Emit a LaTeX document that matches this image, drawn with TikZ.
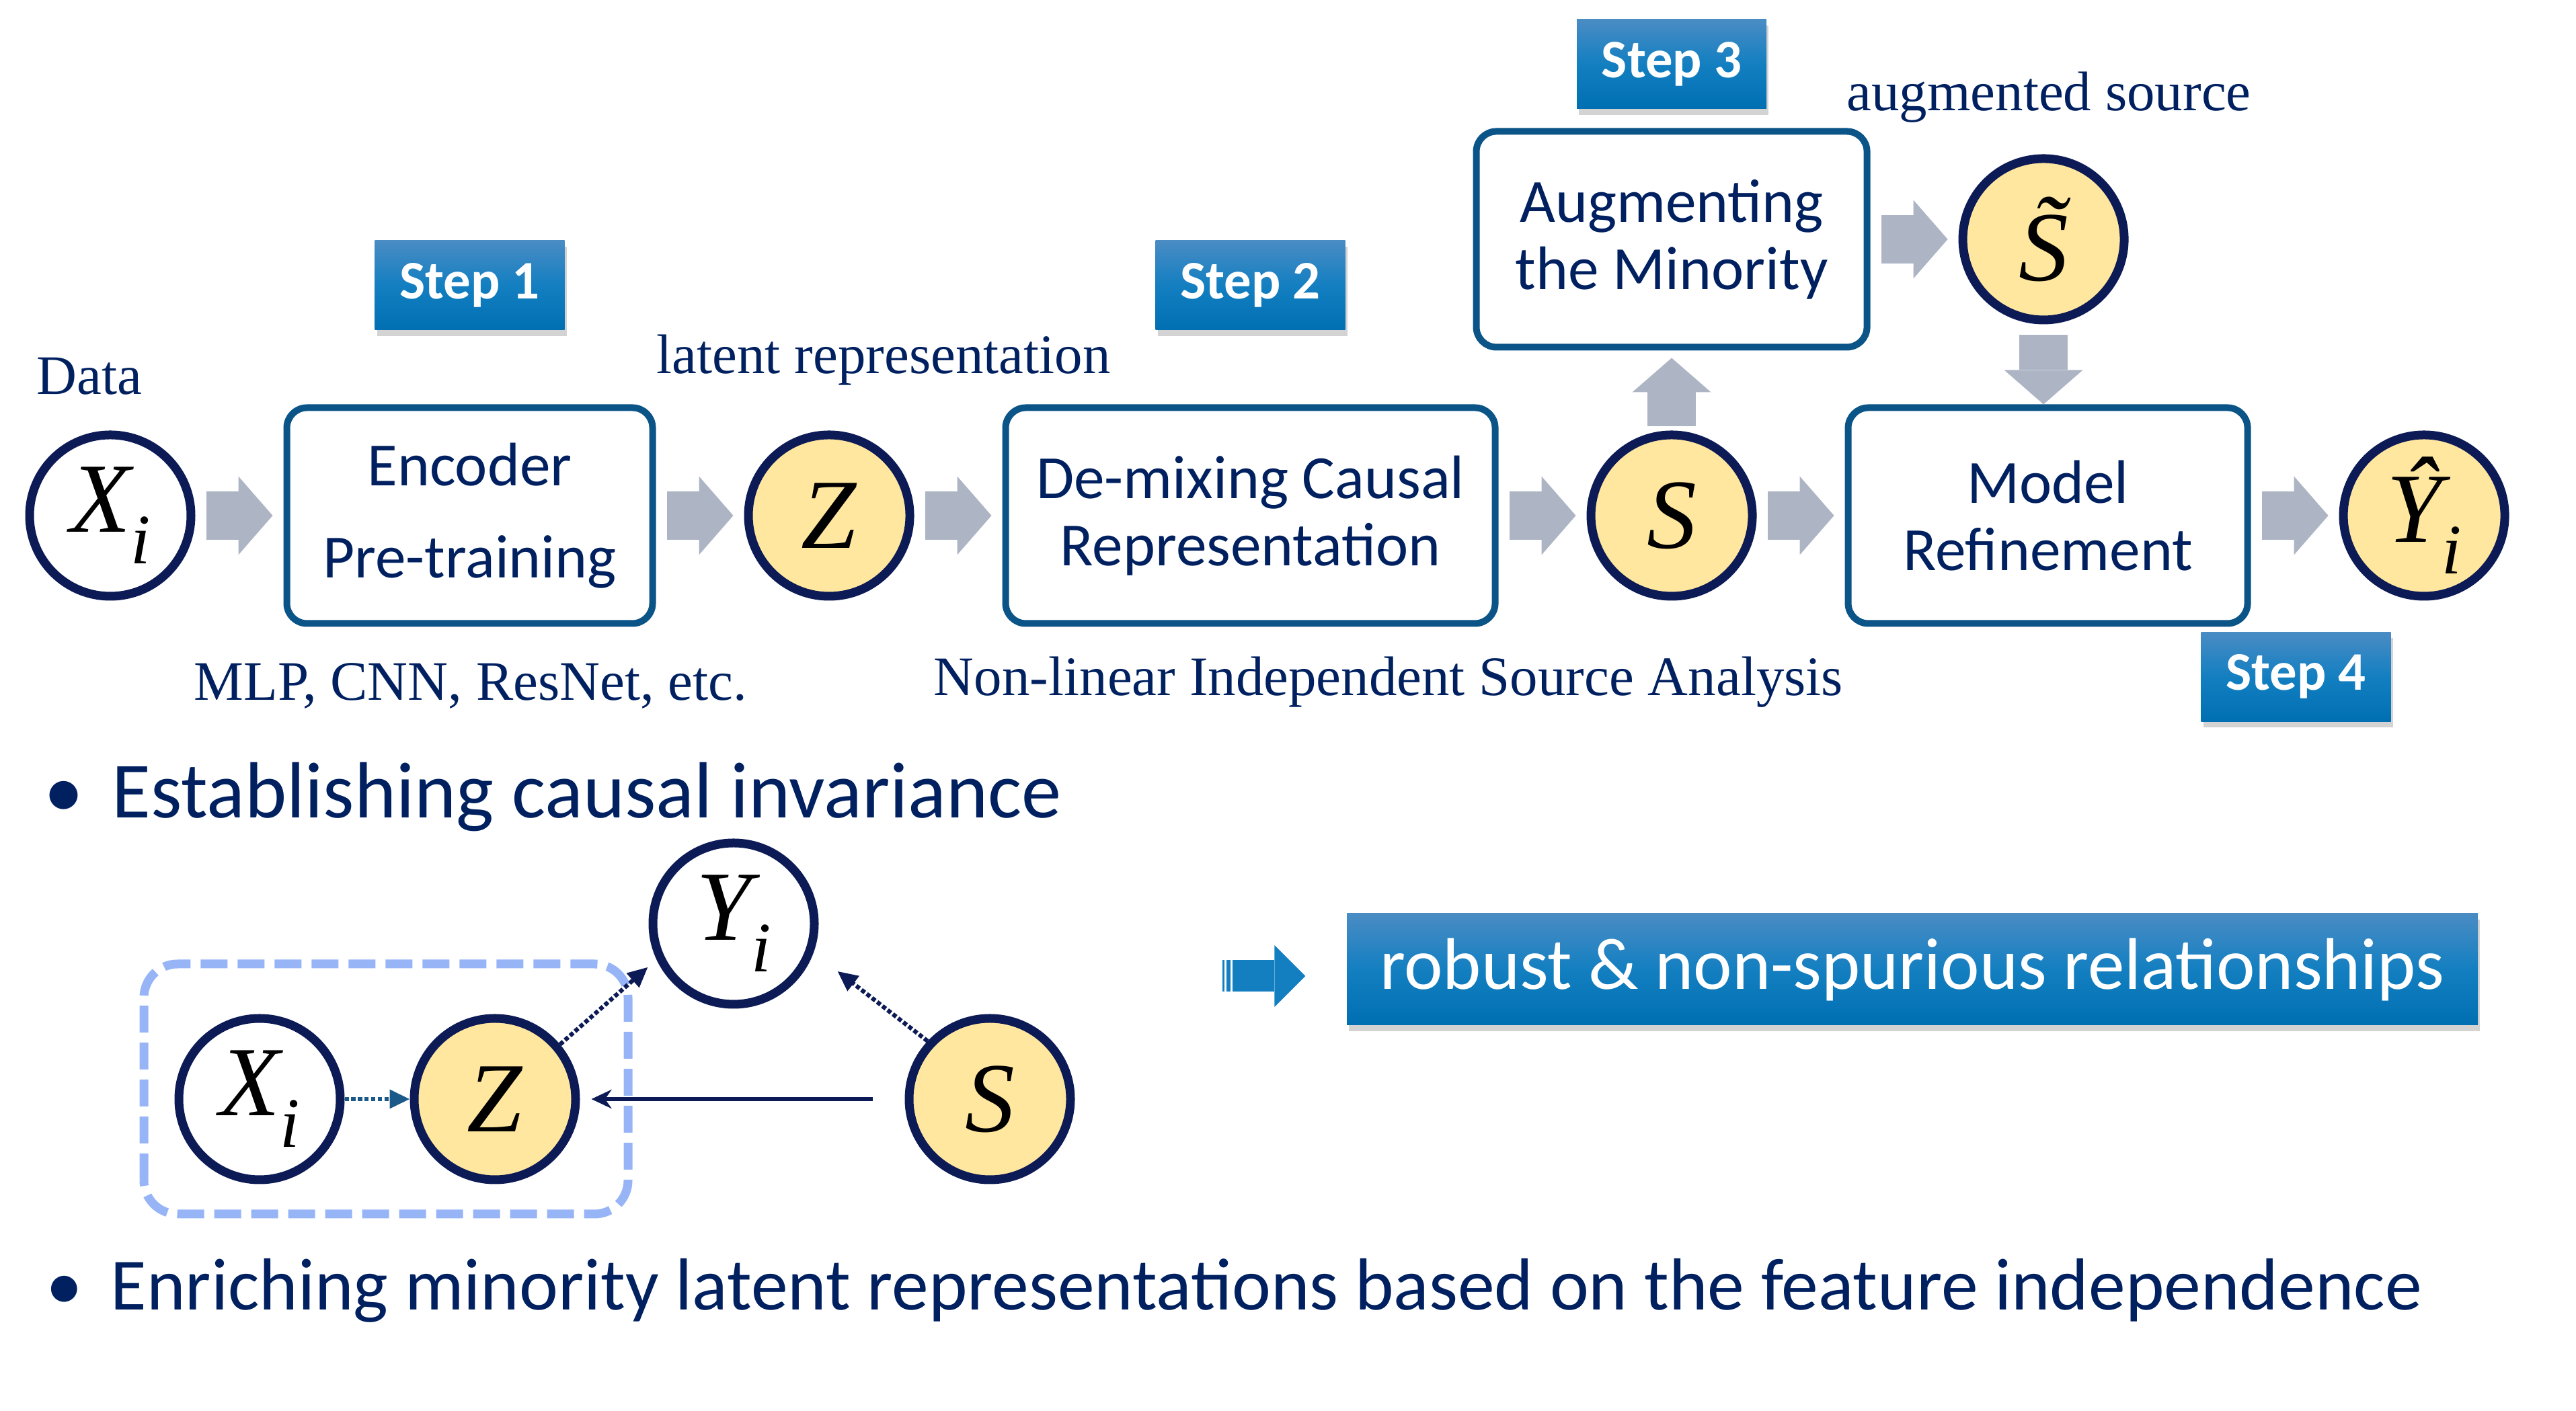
\documentclass[tikz,border=0pt]{standalone}
\usepackage{fontspec}
\setmainfont{Liberation Serif}
\newfontfamily\calfont{Carlito}
\usetikzlibrary{positioning, arrows.meta, shadows, calc}

\definecolor{navy}{HTML}{0C1A55}
\definecolor{txtblue}{HTML}{002060}
\definecolor{boxblue}{HTML}{0B5487}
\definecolor{gold}{HTML}{FFE79F}
\definecolor{arrowgray}{HTML}{ADB5C5}
\definecolor{stepTop}{HTML}{4A8CC4}
\definecolor{stepMid}{HTML}{137FC1}
\definecolor{stepBot}{HTML}{006FB2}
\definecolor{groupblue}{HTML}{97B4F7}
\definecolor{linkblue}{HTML}{1B5A88}

% variable with lowered index
\newcommand{\varidx}[2]{#1\raisebox{-0.32em}{\fontsize{30}{30}\selectfont #2}}

\tikzset{
    var/.style = {circle, draw=navy, line width=3.7pt, minimum size=2.4cm, inner sep=0pt,
        font=\fontsize{42}{42}\selectfont\itshape},
    latent/.style = {var, fill=gold},
    observed/.style = {var, fill=white},
    stage/.style = {draw=boxblue, line width=2.85pt, rounded corners=0.3cm, minimum height=3.21cm,
        align=center, text=txtblue, font=\calfont\fontsize{26}{28.5}\selectfont},
    stepbox/.style = {minimum width=2.82cm, minimum height=1.33cm, top color=stepTop, bottom color=stepBot,
        middle color=stepMid, text=white, font=\calfont\bfseries\fontsize{23}{23}\selectfont,
        drop shadow={shadow xshift=0.03cm, shadow yshift=-0.09cm, opacity=0.35}},
    note/.style = {text=txtblue, font=\fontsize{23.6}{28}\selectfont, inner sep=0pt},
    point/.style = {text=txtblue, inner sep=0pt, anchor=base west},
    flow/.style = {arrowgray, line width=0.72cm, -{Triangle[width=1.17cm, length=0.51cm, line width=0pt]},
        shorten <=0.16cm, shorten >=0.16cm},
    dotlink/.style = {densely dotted, line width=1.8pt, -{Triangle[length=0.3cm, width=0.27cm]}},
}

\begin{document}
\begin{tikzpicture}[node distance=1.31cm]
\useasboundingbox (0,0) rectangle (38.31,20.99);

% pipeline
\node[observed] (Xi) at (1.64,13.32) {\varidx{X}{i}};
\node[stage, minimum width=5.44cm, right=of Xi] (enc) {Encoder\\[0.37cm]Pre-training};
\node[latent, right=of enc] (Z) {Z};
\node[stage, minimum width=7.28cm, right=of Z] (demix) {De-mixing Causal\\Representation};
\node[latent, right=of demix] (S) {S};
\node[stage, minimum width=5.94cm, right=of S] (model) {Model\\Refinement};
\node[latent, right=of model] (Yhat) {\varidx{\^{Y}}{i}};
\node[stage, minimum width=5.81cm, above=1.19cm of S] (aug) {Augmenting\\the Minority};
\node[latent, right=of aug] (St) {\~{S}};

\draw[flow] (Xi) -- (enc);
\draw[flow] (enc) -- (Z);
\draw[flow] (Z) -- (demix);
\draw[flow] (demix) -- (S);
\draw[flow] (S) -- (model);
\draw[flow] (model) -- (Yhat);
\draw[flow, shorten <=0.06cm, shorten >=0.11cm] (S) -- (S |- aug.south);
\draw[flow] (aug) -- (St);
\draw[flow, shorten >=0cm] (St) -- (St |- model.north);

% steps
\node[stepbox, above=1.1cm of enc] (st1) {Step 1};
\node[stepbox, above=1.1cm of demix] (st2) {Step 2};
\node[stepbox, above=0.28cm of aug] (st3) {Step 3};
\node[stepbox, anchor=north] (st4) at ($(model.south east)+(0.67,-0.07)$) {Step 4};

% labels
\node[note, anchor=base west] (data) at (0.54,15.12) {Data};
\node[note, anchor=base] (latlab) at (13.14,15.43) {latent representation};
\node[note, anchor=base] (enclab) at (7.00,10.57) {MLP, CNN, ResNet, etc.};
\node[note, anchor=base] (nlica) at (20.65,10.64) {Non-linear Independent Source Analysis};
\node[note, anchor=base] (auglab) at (30.47,19.34) {augmented source};

% causal graph
\node[point, font=\calfont\fontsize{33.7}{38}\selectfont] (inv) at (1.66,8.82)
    {\llap{\textbullet\hspace{0.42cm}}Establishing causal invariance};
\node[observed] (Yi) at (10.91,7.25) {\varidx{Y}{i}};
\node[observed] (X2) at (3.86,4.64) {\varidx{X}{i}};
\node[latent] (Z2) at (7.36,4.64) {Z};
\node[latent] (S2) at (14.72,4.64) {S};
\draw[groupblue, line width=0.13cm, dash pattern=on 0.4cm off 0.15cm, rounded corners=0.5cm]
    (2.14,2.93) rectangle (9.34,6.65);
\draw[dotlink, linkblue] (X2) -- (Z2);
\draw[navy, line width=1.5pt, -{Stealth[length=0.3cm, width=0.28cm]}, shorten <=0.48cm, shorten >=0.17cm] (S2) -- (Z2);
\draw[dotlink, navy, shorten >=0.17cm] (Z2.40) -- (Yi.205);
\draw[dotlink, navy, shorten >=0.45cm] (S2.137) -- (Yi.340);

% outcome
\coordinate (bluetail) at (18.18,6.47);
\node[stepbox, minimum width=16.82cm, minimum height=1.66cm, font=\calfont\fontsize{31}{31}\selectfont] (robust)
    at (28.44,6.57) {robust \& non-spurious relationships};
\draw[stepMid, line width=0.47cm, dash pattern=on 0.03cm off 0.03cm on 0.06cm off 0.03cm on 3cm,
    -{Triangle[width=0.92cm, length=0.46cm, line width=0pt]}, shorten >=0.61cm] (bluetail) -- (bluetail -| robust.west);

\node[point, font=\calfont\fontsize{31.2}{36}\selectfont] (enrich) at (1.64,1.50)
    {\llap{\textbullet\hspace{0.42cm}}Enriching minority latent representations based on the feature independence};
\end{tikzpicture}
\end{document}
